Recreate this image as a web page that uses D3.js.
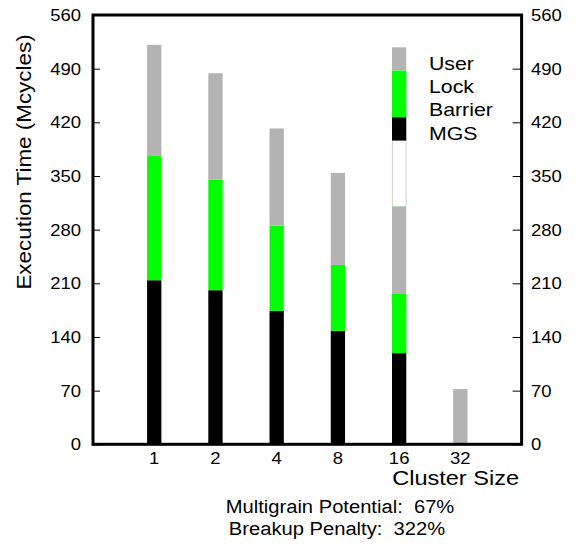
<!DOCTYPE html>
<html>
<head>
<meta charset="utf-8">
<script src="https://cdn.jsdelivr.net/npm/d3@7"></script>
<style>
  html, body { margin: 0; padding: 0; background: #fff; }
  svg { display: block; }
  text { font-family: "Liberation Sans", Arial, Helvetica, sans-serif; fill: #000; white-space: pre; }
</style>
</head>
<body>
<svg id="chart" width="580" height="548"></svg>
<script>
// ---- data ----
const categories = ["1", "2", "4", "8", "16", "32"];
const mgs     = [214, 201, 174, 148, 119, 0];
const barrier = [162, 144, 111,  86,  78, 0];
const lock    = [  0,   0,   0,   0,   0, 0];
const user    = [145, 139, 127, 120, 113, 72];
const yTicks  = [0, 70, 140, 210, 280, 350, 420, 490, 560];
const legendLabels = ["User", "Lock", "Barrier", "MGS"];
const legendColors = ["#b3b3b3", "#00ff00", "#00ff00", "#000000"];
const noteLines = ["Multigrain Potential:  67%", "Breakup Penalty:  322%"];

(function () {
// ---- layout ----
const svg = d3.select("#chart");
const pL = 93, pR = 521.6, pT = 15, pB = 444.3;
const y = d3.scaleLinear().domain([0, 560]).range([pB, pT]);
const x = d3.scaleLinear().domain([-1, categories.length]).range([pL, pR]);
const barW = 14.3;
const STRETCH = 1.12;

function stretch(sel, f) {
  sel.each(function() {
    const w = this.getComputedTextLength();
    this.setAttribute("textLength", w * (f || STRETCH));
    this.setAttribute("lengthAdjust", "spacingAndGlyphs");
  });
}

const series = [
  { key: "MGS", values: mgs, color: "#000000" },
  { key: "Barrier", values: barrier, color: "#00ff00" },
  { key: "Lock", values: lock, color: "#00ff00" },
  { key: "User", values: user, color: "#b3b3b3" }
];
const rows = categories.map((c, i) => {
  const r = { i };
  series.forEach(s => r[s.key] = s.values[i]);
  return r;
});
const stack = d3.stack().keys(series.map(s => s.key))(rows);

const gBars = svg.append("g");
stack.forEach((layer, li) => {
  gBars.selectAll(null).data(layer.filter(d => d[1] > d[0])).enter().append("rect")
    .attr("x", d => x(d.data.i) - barW / 2)
    .attr("width", barW)
    .attr("y", d => y(d[1]))
    .attr("height", d => y(d[0]) - y(d[1]))
    .attr("fill", series[li].color);
});

// legend (stacked swatches over the 16 column)
const legX = x(4) - barW / 2;
const legTop = 47.3, legRow = 23.3;
const total16 = mgs[4] + barrier[4] + lock[4] + user[4];
svg.append("rect")
  .attr("x", legX + 0.25).attr("width", barW - 0.5)
  .attr("y", legTop + legRow * 4).attr("height", y(total16) - (legTop + legRow * 4))
  .attr("fill", "#fff").attr("stroke", "#9fbf9f").attr("stroke-width", 0.6);
legendLabels.forEach((lab, i) => {
  svg.append("rect")
    .attr("x", legX).attr("width", barW)
    .attr("y", legTop + legRow * i).attr("height", legRow)
    .attr("fill", legendColors[i]);
  svg.append("text")
    .attr("x", 429).attr("y", legTop + legRow * (i + 1) - 1)
    .attr("font-size", 19)
    .text(lab).call(stretch);
});

// frame
svg.append("rect")
  .attr("x", pL).attr("y", pT)
  .attr("width", pR - pL).attr("height", pB - pT)
  .attr("fill", "none").attr("stroke", "#000").attr("stroke-width", 3);

// axes
const axL = svg.append("g").attr("transform", `translate(${pL},0)`)
  .call(d3.axisRight(y).tickValues(yTicks).tickSize(7).tickFormat(""));
const axR = svg.append("g").attr("transform", `translate(${pR},0)`)
  .call(d3.axisLeft(y).tickValues(yTicks).tickSize(9).tickFormat(""));
[axL, axR].forEach(a => { a.select(".domain").remove(); a.selectAll("line").attr("stroke", "#000").attr("stroke-width", 1); });

svg.append("g").selectAll(null).data(yTicks).enter().append("text")
  .attr("x", 81).attr("y", d => y(d) + 6)
  .attr("text-anchor", "end").attr("font-size", 16.5)
  .text(d => d).call(stretch);
svg.append("g").selectAll(null).data(yTicks).enter().append("text")
  .attr("x", 531).attr("y", d => y(d) + 6)
  .attr("text-anchor", "start").attr("font-size", 16.5)
  .text(d => d).call(stretch);

// x labels
svg.append("g").selectAll(null).data(categories).enter().append("text")
  .attr("x", (d, i) => x(i)).attr("y", 464)
  .attr("text-anchor", "middle").attr("font-size", 16.5)
  .text(d => d).call(stretch);

svg.append("text").attr("x", 519).attr("y", 484.5)
  .attr("text-anchor", "end").attr("font-size", 21)
  .text("Cluster Size").call(stretch);

// y title
svg.append("text")
  .attr("transform", "translate(31,162) rotate(-90)")
  .attr("text-anchor", "middle").attr("font-size", 20)
  .text("Execution Time (Mcycles)").call(stretch);

// notes
svg.append("text").attr("x", 340).attr("y", 513)
  .attr("text-anchor", "middle").attr("font-size", 18)
  .text(noteLines[0]).call(stretch);
svg.append("text").attr("x", 337).attr("y", 535)
  .attr("text-anchor", "middle").attr("font-size", 18)
  .text(noteLines[1]).call(stretch);
})();
</script>
</body>
</html>
